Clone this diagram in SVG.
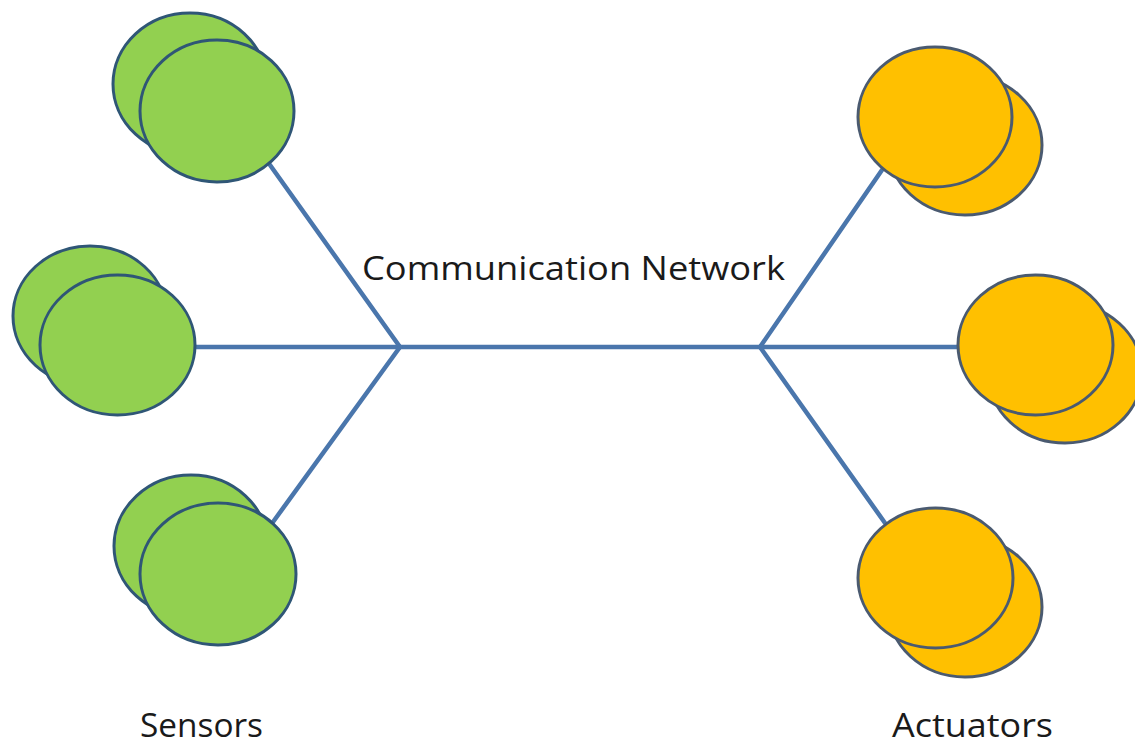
<svg xmlns="http://www.w3.org/2000/svg" width="1135" height="747" viewBox="0 0 1135 747">
  <style>
    .link { stroke: #4a76ac; stroke-width: 4.5; fill: none; stroke-linecap: round; }
    .sensor { fill: #92d050; stroke: #2f5676; stroke-width: 3; }
    .actuator { fill: #ffc000; stroke: #4a5a70; stroke-width: 3; }
    .label { font-family: "Open Sans", "Noto Sans", sans-serif; font-size: 33px; fill: #1a1a1a; }
    .foot { font-size: 32px; }
  </style>
  <rect width="1135" height="747" fill="#ffffff"/>

  <!-- network trunk and branches -->
  <g id="connectors">
    <line class="link" x1="400" y1="347" x2="760" y2="347"/>
    <line class="link" x1="400" y1="347" x2="270" y2="165"/>
    <line class="link" x1="400" y1="347" x2="195" y2="347"/>
    <line class="link" x1="400" y1="347" x2="273" y2="522"/>
    <line class="link" x1="760" y1="347" x2="882" y2="170"/>
    <line class="link" x1="760" y1="347" x2="958" y2="347"/>
    <line class="link" x1="760" y1="347" x2="885" y2="523"/>
  </g>

  <!-- sensors: back disc offset up-left -->
  <g id="sensor-top">
    <ellipse class="sensor" cx="190" cy="84" rx="77" ry="71"/>
    <ellipse class="sensor" cx="217" cy="111" rx="77" ry="71"/>
  </g>
  <g id="sensor-middle">
    <ellipse class="sensor" cx="90" cy="316" rx="77" ry="70"/>
    <ellipse class="sensor" cx="117.5" cy="345" rx="77.5" ry="70"/>
  </g>
  <g id="sensor-bottom">
    <ellipse class="sensor" cx="191" cy="546" rx="77" ry="71"/>
    <ellipse class="sensor" cx="218" cy="574" rx="78" ry="71"/>
  </g>

  <!-- actuators: back disc offset down-right -->
  <g id="actuator-top">
    <ellipse class="actuator" cx="965" cy="145" rx="77" ry="70"/>
    <ellipse class="actuator" cx="935" cy="117" rx="77" ry="70"/>
  </g>
  <g id="actuator-middle">
    <ellipse class="actuator" cx="1065" cy="373" rx="77" ry="70"/>
    <ellipse class="actuator" cx="1035.5" cy="345" rx="77.5" ry="70"/>
  </g>
  <g id="actuator-bottom">
    <ellipse class="actuator" cx="965" cy="607" rx="77" ry="70"/>
    <ellipse class="actuator" cx="935.5" cy="578" rx="77.5" ry="70"/>
  </g>

  <g id="labels">
    <text class="label" x="362" y="280" textLength="423" lengthAdjust="spacingAndGlyphs">Communication Network</text>
    <text class="label foot" x="140" y="737" textLength="123" lengthAdjust="spacingAndGlyphs">Sensors</text>
    <text class="label foot" x="892" y="737" textLength="161" lengthAdjust="spacingAndGlyphs">Actuators</text>
  </g>
</svg>
